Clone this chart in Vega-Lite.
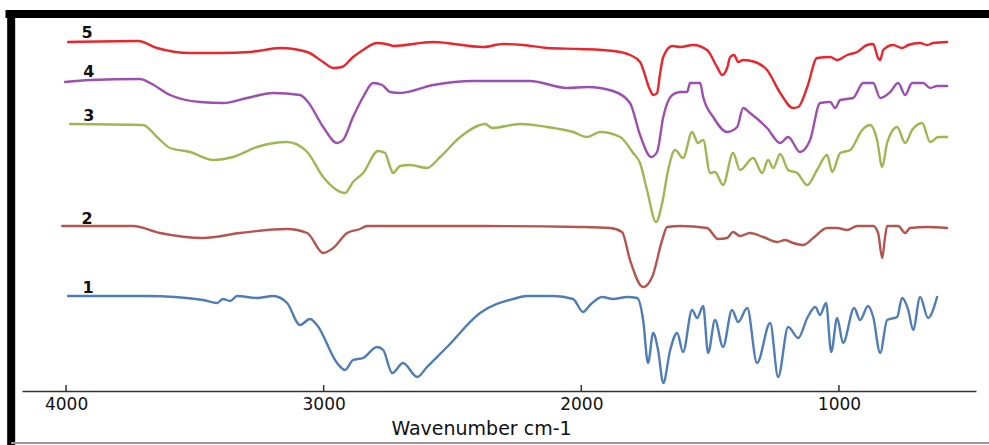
{
  "$schema": "https://vega.github.io/schema/vega-lite/v6.json",
  "width": 954,
  "height": 377,
  "padding": {"left": 22, "top": 14, "right": 13, "bottom": 54},
  "autosize": {"type": "none"},
  "background": "white",
  "config": {"view": {"stroke": null}},
  "datasets": {
    "spectra": [
      {"id":"5","w":3992,"v":349},{"id":"5","w":3720,"v":350},{"id":"5","w":3647,"v":343},{"id":"5","w":3519,"v":338},{"id":"5","w":3402,"v":338},{"id":"5","w":3286,"v":339},{"id":"5","w":3169,"v":343},{"id":"5","w":3064,"v":339},{"id":"5","w":3002,"v":329},{"id":"5","w":2963,"v":323},{"id":"5","w":2929,"v":324},{"id":"5","w":2886,"v":334},{"id":"5","w":2847,"v":341},{"id":"5","w":2793,"v":348},{"id":"5","w":2742,"v":346},{"id":"5","w":2731,"v":345},{"id":"5","w":2575,"v":349},{"id":"5","w":2381,"v":344},{"id":"5","w":2304,"v":347},{"id":"5","w":2226,"v":346},{"id":"5","w":2133,"v":343},{"id":"5","w":2005,"v":342},{"id":"5","w":1877,"v":340},{"id":"5","w":1811,"v":336},{"id":"5","w":1772,"v":329},{"id":"5","w":1733,"v":301},{"id":"5","w":1721,"v":296},{"id":"5","w":1706,"v":298},{"id":"5","w":1694,"v":318},{"id":"5","w":1682,"v":334},{"id":"5","w":1647,"v":345},{"id":"5","w":1616,"v":344},{"id":"5","w":1566,"v":346},{"id":"5","w":1512,"v":341},{"id":"5","w":1473,"v":324},{"id":"5","w":1453,"v":316},{"id":"5","w":1434,"v":323},{"id":"5","w":1422,"v":334},{"id":"5","w":1407,"v":336},{"id":"5","w":1391,"v":329},{"id":"5","w":1372,"v":331},{"id":"5","w":1325,"v":329},{"id":"5","w":1279,"v":321},{"id":"5","w":1228,"v":298},{"id":"5","w":1178,"v":283},{"id":"5","w":1158,"v":284},{"id":"5","w":1123,"v":304},{"id":"5","w":1085,"v":333},{"id":"5","w":1034,"v":334},{"id":"5","w":1007,"v":331},{"id":"5","w":968,"v":336},{"id":"5","w":929,"v":339},{"id":"5","w":891,"v":346},{"id":"5","w":867,"v":347},{"id":"5","w":848,"v":333},{"id":"5","w":840,"v":331},{"id":"5","w":828,"v":341},{"id":"5","w":790,"v":346},{"id":"5","w":755,"v":343},{"id":"5","w":731,"v":346},{"id":"5","w":685,"v":348},{"id":"5","w":658,"v":346},{"id":"5","w":634,"v":348},{"id":"5","w":580,"v":349},
      {"id":"4","w":4004,"v":309},{"id":"4","w":3907,"v":311},{"id":"4","w":3713,"v":312},{"id":"4","w":3674,"v":308},{"id":"4","w":3596,"v":296},{"id":"4","w":3480,"v":289},{"id":"4","w":3391,"v":288},{"id":"4","w":3297,"v":293},{"id":"4","w":3196,"v":298},{"id":"4","w":3092,"v":296},{"id":"4","w":3061,"v":289},{"id":"4","w":3002,"v":264},{"id":"4","w":2948,"v":248},{"id":"4","w":2925,"v":251},{"id":"4","w":2886,"v":274},{"id":"4","w":2847,"v":294},{"id":"4","w":2808,"v":308},{"id":"4","w":2773,"v":306},{"id":"4","w":2742,"v":299},{"id":"4","w":2703,"v":298},{"id":"4","w":2575,"v":306},{"id":"4","w":2420,"v":310},{"id":"4","w":2199,"v":310},{"id":"4","w":2055,"v":303},{"id":"4","w":1977,"v":304},{"id":"4","w":1877,"v":300},{"id":"4","w":1811,"v":288},{"id":"4","w":1772,"v":256},{"id":"4","w":1729,"v":234},{"id":"4","w":1706,"v":239},{"id":"4","w":1682,"v":274},{"id":"4","w":1647,"v":296},{"id":"4","w":1616,"v":299},{"id":"4","w":1589,"v":299},{"id":"4","w":1578,"v":308},{"id":"4","w":1539,"v":308},{"id":"4","w":1527,"v":294},{"id":"4","w":1488,"v":274},{"id":"4","w":1434,"v":259},{"id":"4","w":1395,"v":264},{"id":"4","w":1372,"v":283},{"id":"4","w":1345,"v":278},{"id":"4","w":1279,"v":263},{"id":"4","w":1228,"v":248},{"id":"4","w":1197,"v":254},{"id":"4","w":1151,"v":239},{"id":"4","w":1112,"v":251},{"id":"4","w":1073,"v":288},{"id":"4","w":1034,"v":289},{"id":"4","w":1015,"v":283},{"id":"4","w":995,"v":291},{"id":"4","w":945,"v":293},{"id":"4","w":906,"v":308},{"id":"4","w":867,"v":308},{"id":"4","w":840,"v":293},{"id":"4","w":801,"v":299},{"id":"4","w":770,"v":308},{"id":"4","w":743,"v":296},{"id":"4","w":716,"v":308},{"id":"4","w":673,"v":308},{"id":"4","w":646,"v":303},{"id":"4","w":619,"v":305},{"id":"4","w":580,"v":305},
      {"id":"3","w":3984,"v":267},{"id":"3","w":3701,"v":266},{"id":"3","w":3647,"v":254},{"id":"3","w":3596,"v":243},{"id":"3","w":3519,"v":239},{"id":"3","w":3429,"v":231},{"id":"3","w":3352,"v":234},{"id":"3","w":3259,"v":244},{"id":"3","w":3142,"v":249},{"id":"3","w":3064,"v":239},{"id":"3","w":3002,"v":214},{"id":"3","w":2917,"v":198},{"id":"3","w":2886,"v":209},{"id":"3","w":2847,"v":218},{"id":"3","w":2789,"v":240},{"id":"3","w":2762,"v":238},{"id":"3","w":2742,"v":224},{"id":"3","w":2731,"v":218},{"id":"3","w":2703,"v":225},{"id":"3","w":2665,"v":226},{"id":"3","w":2599,"v":223},{"id":"3","w":2548,"v":234},{"id":"3","w":2470,"v":254},{"id":"3","w":2393,"v":266},{"id":"3","w":2373,"v":267},{"id":"3","w":2346,"v":263},{"id":"3","w":2238,"v":267},{"id":"3","w":2133,"v":264},{"id":"3","w":2032,"v":259},{"id":"3","w":1977,"v":254},{"id":"3","w":1927,"v":259},{"id":"3","w":1849,"v":254},{"id":"3","w":1799,"v":238},{"id":"3","w":1772,"v":228},{"id":"3","w":1745,"v":201},{"id":"3","w":1710,"v":169},{"id":"3","w":1686,"v":188},{"id":"3","w":1663,"v":221},{"id":"3","w":1636,"v":241},{"id":"3","w":1605,"v":233},{"id":"3","w":1570,"v":259},{"id":"3","w":1547,"v":248},{"id":"3","w":1527,"v":251},{"id":"3","w":1500,"v":218},{"id":"3","w":1481,"v":219},{"id":"3","w":1450,"v":206},{"id":"3","w":1411,"v":238},{"id":"3","w":1384,"v":221},{"id":"3","w":1333,"v":233},{"id":"3","w":1298,"v":218},{"id":"3","w":1275,"v":231},{"id":"3","w":1255,"v":223},{"id":"3","w":1228,"v":237},{"id":"3","w":1197,"v":221},{"id":"3","w":1162,"v":218},{"id":"3","w":1123,"v":206},{"id":"3","w":1085,"v":221},{"id":"3","w":1046,"v":236},{"id":"3","w":1026,"v":219},{"id":"3","w":995,"v":238},{"id":"3","w":956,"v":241},{"id":"3","w":910,"v":261},{"id":"3","w":879,"v":266},{"id":"3","w":852,"v":251},{"id":"3","w":832,"v":224},{"id":"3","w":813,"v":248},{"id":"3","w":774,"v":264},{"id":"3","w":743,"v":248},{"id":"3","w":716,"v":261},{"id":"3","w":677,"v":268},{"id":"3","w":646,"v":249},{"id":"3","w":615,"v":254},{"id":"3","w":580,"v":254},
      {"id":"2","w":4015,"v":165},{"id":"2","w":3740,"v":165},{"id":"2","w":3635,"v":158},{"id":"2","w":3468,"v":153},{"id":"2","w":3325,"v":158},{"id":"2","w":3142,"v":162},{"id":"2","w":3064,"v":158},{"id":"2","w":3002,"v":138},{"id":"2","w":2963,"v":143},{"id":"2","w":2909,"v":158},{"id":"2","w":2859,"v":162},{"id":"2","w":2832,"v":165},{"id":"2","w":2742,"v":165},{"id":"2","w":2393,"v":165},{"id":"2","w":2005,"v":164},{"id":"2","w":1888,"v":163},{"id":"2","w":1842,"v":159},{"id":"2","w":1811,"v":131},{"id":"2","w":1760,"v":104},{"id":"2","w":1725,"v":114},{"id":"2","w":1686,"v":151},{"id":"2","w":1667,"v":164},{"id":"2","w":1616,"v":165},{"id":"2","w":1512,"v":163},{"id":"2","w":1469,"v":152},{"id":"2","w":1434,"v":153},{"id":"2","w":1411,"v":159},{"id":"2","w":1384,"v":155},{"id":"2","w":1345,"v":158},{"id":"2","w":1294,"v":154},{"id":"2","w":1240,"v":149},{"id":"2","w":1209,"v":151},{"id":"2","w":1178,"v":148},{"id":"2","w":1139,"v":146},{"id":"2","w":1100,"v":153},{"id":"2","w":1046,"v":163},{"id":"2","w":1007,"v":163},{"id":"2","w":968,"v":161},{"id":"2","w":929,"v":165},{"id":"2","w":867,"v":165},{"id":"2","w":848,"v":158},{"id":"2","w":832,"v":133},{"id":"2","w":821,"v":154},{"id":"2","w":813,"v":165},{"id":"2","w":770,"v":165},{"id":"2","w":743,"v":158},{"id":"2","w":724,"v":163},{"id":"2","w":658,"v":164},{"id":"2","w":580,"v":163},
      {"id":"1","w":3992,"v":95},{"id":"1","w":3686,"v":95},{"id":"1","w":3468,"v":91},{"id":"1","w":3414,"v":88},{"id":"1","w":3391,"v":92},{"id":"1","w":3363,"v":90},{"id":"1","w":3336,"v":95},{"id":"1","w":3259,"v":93},{"id":"1","w":3196,"v":95},{"id":"1","w":3142,"v":88},{"id":"1","w":3092,"v":66},{"id":"1","w":3053,"v":72},{"id":"1","w":3026,"v":66},{"id":"1","w":2948,"v":28},{"id":"1","w":2917,"v":21},{"id":"1","w":2886,"v":31},{"id":"1","w":2847,"v":33},{"id":"1","w":2793,"v":44},{"id":"1","w":2769,"v":41},{"id":"1","w":2734,"v":18},{"id":"1","w":2692,"v":28},{"id":"1","w":2637,"v":14},{"id":"1","w":2599,"v":24},{"id":"1","w":2521,"v":44},{"id":"1","w":2393,"v":78},{"id":"1","w":2265,"v":92},{"id":"1","w":2210,"v":95},{"id":"1","w":2109,"v":95},{"id":"1","w":2032,"v":92},{"id":"1","w":1993,"v":79},{"id":"1","w":1966,"v":86},{"id":"1","w":1919,"v":94},{"id":"1","w":1877,"v":92},{"id":"1","w":1822,"v":94},{"id":"1","w":1783,"v":93},{"id":"1","w":1760,"v":71},{"id":"1","w":1741,"v":28},{"id":"1","w":1721,"v":58},{"id":"1","w":1702,"v":41},{"id":"1","w":1682,"v":8},{"id":"1","w":1655,"v":41},{"id":"1","w":1628,"v":58},{"id":"1","w":1605,"v":39},{"id":"1","w":1570,"v":81},{"id":"1","w":1550,"v":73},{"id":"1","w":1527,"v":85},{"id":"1","w":1508,"v":38},{"id":"1","w":1481,"v":71},{"id":"1","w":1450,"v":44},{"id":"1","w":1415,"v":81},{"id":"1","w":1391,"v":69},{"id":"1","w":1356,"v":83},{"id":"1","w":1318,"v":28},{"id":"1","w":1267,"v":68},{"id":"1","w":1236,"v":14},{"id":"1","w":1197,"v":64},{"id":"1","w":1158,"v":53},{"id":"1","w":1123,"v":73},{"id":"1","w":1092,"v":84},{"id":"1","w":1073,"v":76},{"id":"1","w":1050,"v":88},{"id":"1","w":1030,"v":39},{"id":"1","w":1007,"v":73},{"id":"1","w":984,"v":48},{"id":"1","w":941,"v":83},{"id":"1","w":918,"v":71},{"id":"1","w":887,"v":85},{"id":"1","w":867,"v":74},{"id":"1","w":840,"v":38},{"id":"1","w":813,"v":71},{"id":"1","w":774,"v":74},{"id":"1","w":755,"v":93},{"id":"1","w":731,"v":81},{"id":"1","w":712,"v":61},{"id":"1","w":685,"v":94},{"id":"1","w":654,"v":73},{"id":"1","w":619,"v":94}
    ],
    "labels": [
      {"id":"5","w":3918,"v":358},
      {"id":"4","w":3912,"v":319},
      {"id":"3","w":3912,"v":275},
      {"id":"2","w":3918,"v":172},
      {"id":"1","w":3915,"v":103}
    ],
    "ticks": [{"t":1000},{"t":2000},{"t":3000},{"t":4000}]
  },
  "layer": [
    {
      "data": {"name": "spectra"},
      "mark": {"type": "line", "interpolate": "monotone", "strokeWidth": 2.4, "strokeCap": "round", "strokeJoin": "round"},
      "encoding": {
        "x": {
          "field": "w", "type": "quantitative",
          "scale": {"domain": [468, 4171], "reverse": true, "nice": false, "zero": false},
          "axis": {
            "values": [1000, 2000, 3000, 4000],
            "format": "d",
            "grid": false,
            "ticks": false,
            "title": "Wavenumber cm-1",
            "domainColor": "#333333",
            "domainWidth": 1.5,
            "labelPadding": 5,
            "labelFont": "DejaVu Sans",
            "labelFontSize": 17,
            "labelColor": "#111111",
            "titleFont": "DejaVu Sans",
            "titleFontSize": 19,
            "titleFontWeight": "normal",
            "titleColor": "#111111",
            "titlePadding": 7,
            "titleX": 459
          }
        },
        "y": {
          "field": "v", "type": "quantitative",
          "scale": {"domain": [0, 377], "nice": false, "zero": false},
          "axis": null
        },
        "color": {
          "field": "id", "type": "nominal",
          "scale": {"domain": ["1", "2", "3", "4", "5"], "range": ["#4f7db6", "#b5554f", "#9fb652", "#9c4fae", "#e8262c"]},
          "legend": null
        },
        "order": {"field": "w", "sort": "descending"}
      }
    },
    {
      "data": {"name": "ticks"},
      "mark": {"type": "rule", "color": "#333333", "strokeWidth": 1.5},
      "encoding": {
        "x": {"field": "t", "type": "quantitative"},
        "y": {"datum": 0},
        "y2": {"datum": 6}
      }
    },
    {
      "data": {"name": "labels"},
      "mark": {"type": "text", "font": "DejaVu Sans", "fontSize": 16, "fontWeight": "bold", "color": "#111111", "baseline": "middle", "align": "center"},
      "encoding": {
        "x": {"field": "w", "type": "quantitative"},
        "y": {"field": "v", "type": "quantitative"},
        "text": {"field": "id"}
      }
    },
    {
      "data": {"values": [{"a": 1}]},
      "mark": {"type": "rule", "color": "black", "strokeWidth": 8},
      "encoding": {
        "x": {"datum": 4235},
        "x2": {"datum": 390},
        "y": {"datum": 377}
      }
    },
    {
      "data": {"values": [{"a": 1}]},
      "mark": {"type": "rule", "color": "black", "strokeWidth": 8},
      "encoding": {
        "x": {"datum": 4213},
        "y": {"datum": 381},
        "y2": {"datum": -60}
      }
    },
    {
      "data": {"values": [{"a": 1}]},
      "mark": {"type": "rule", "color": "#9a9a9a", "strokeWidth": 2},
      "encoding": {
        "x": {"datum": 4213},
        "x2": {"datum": 390},
        "y": {"datum": -52}
      }
    }
  ]
}
